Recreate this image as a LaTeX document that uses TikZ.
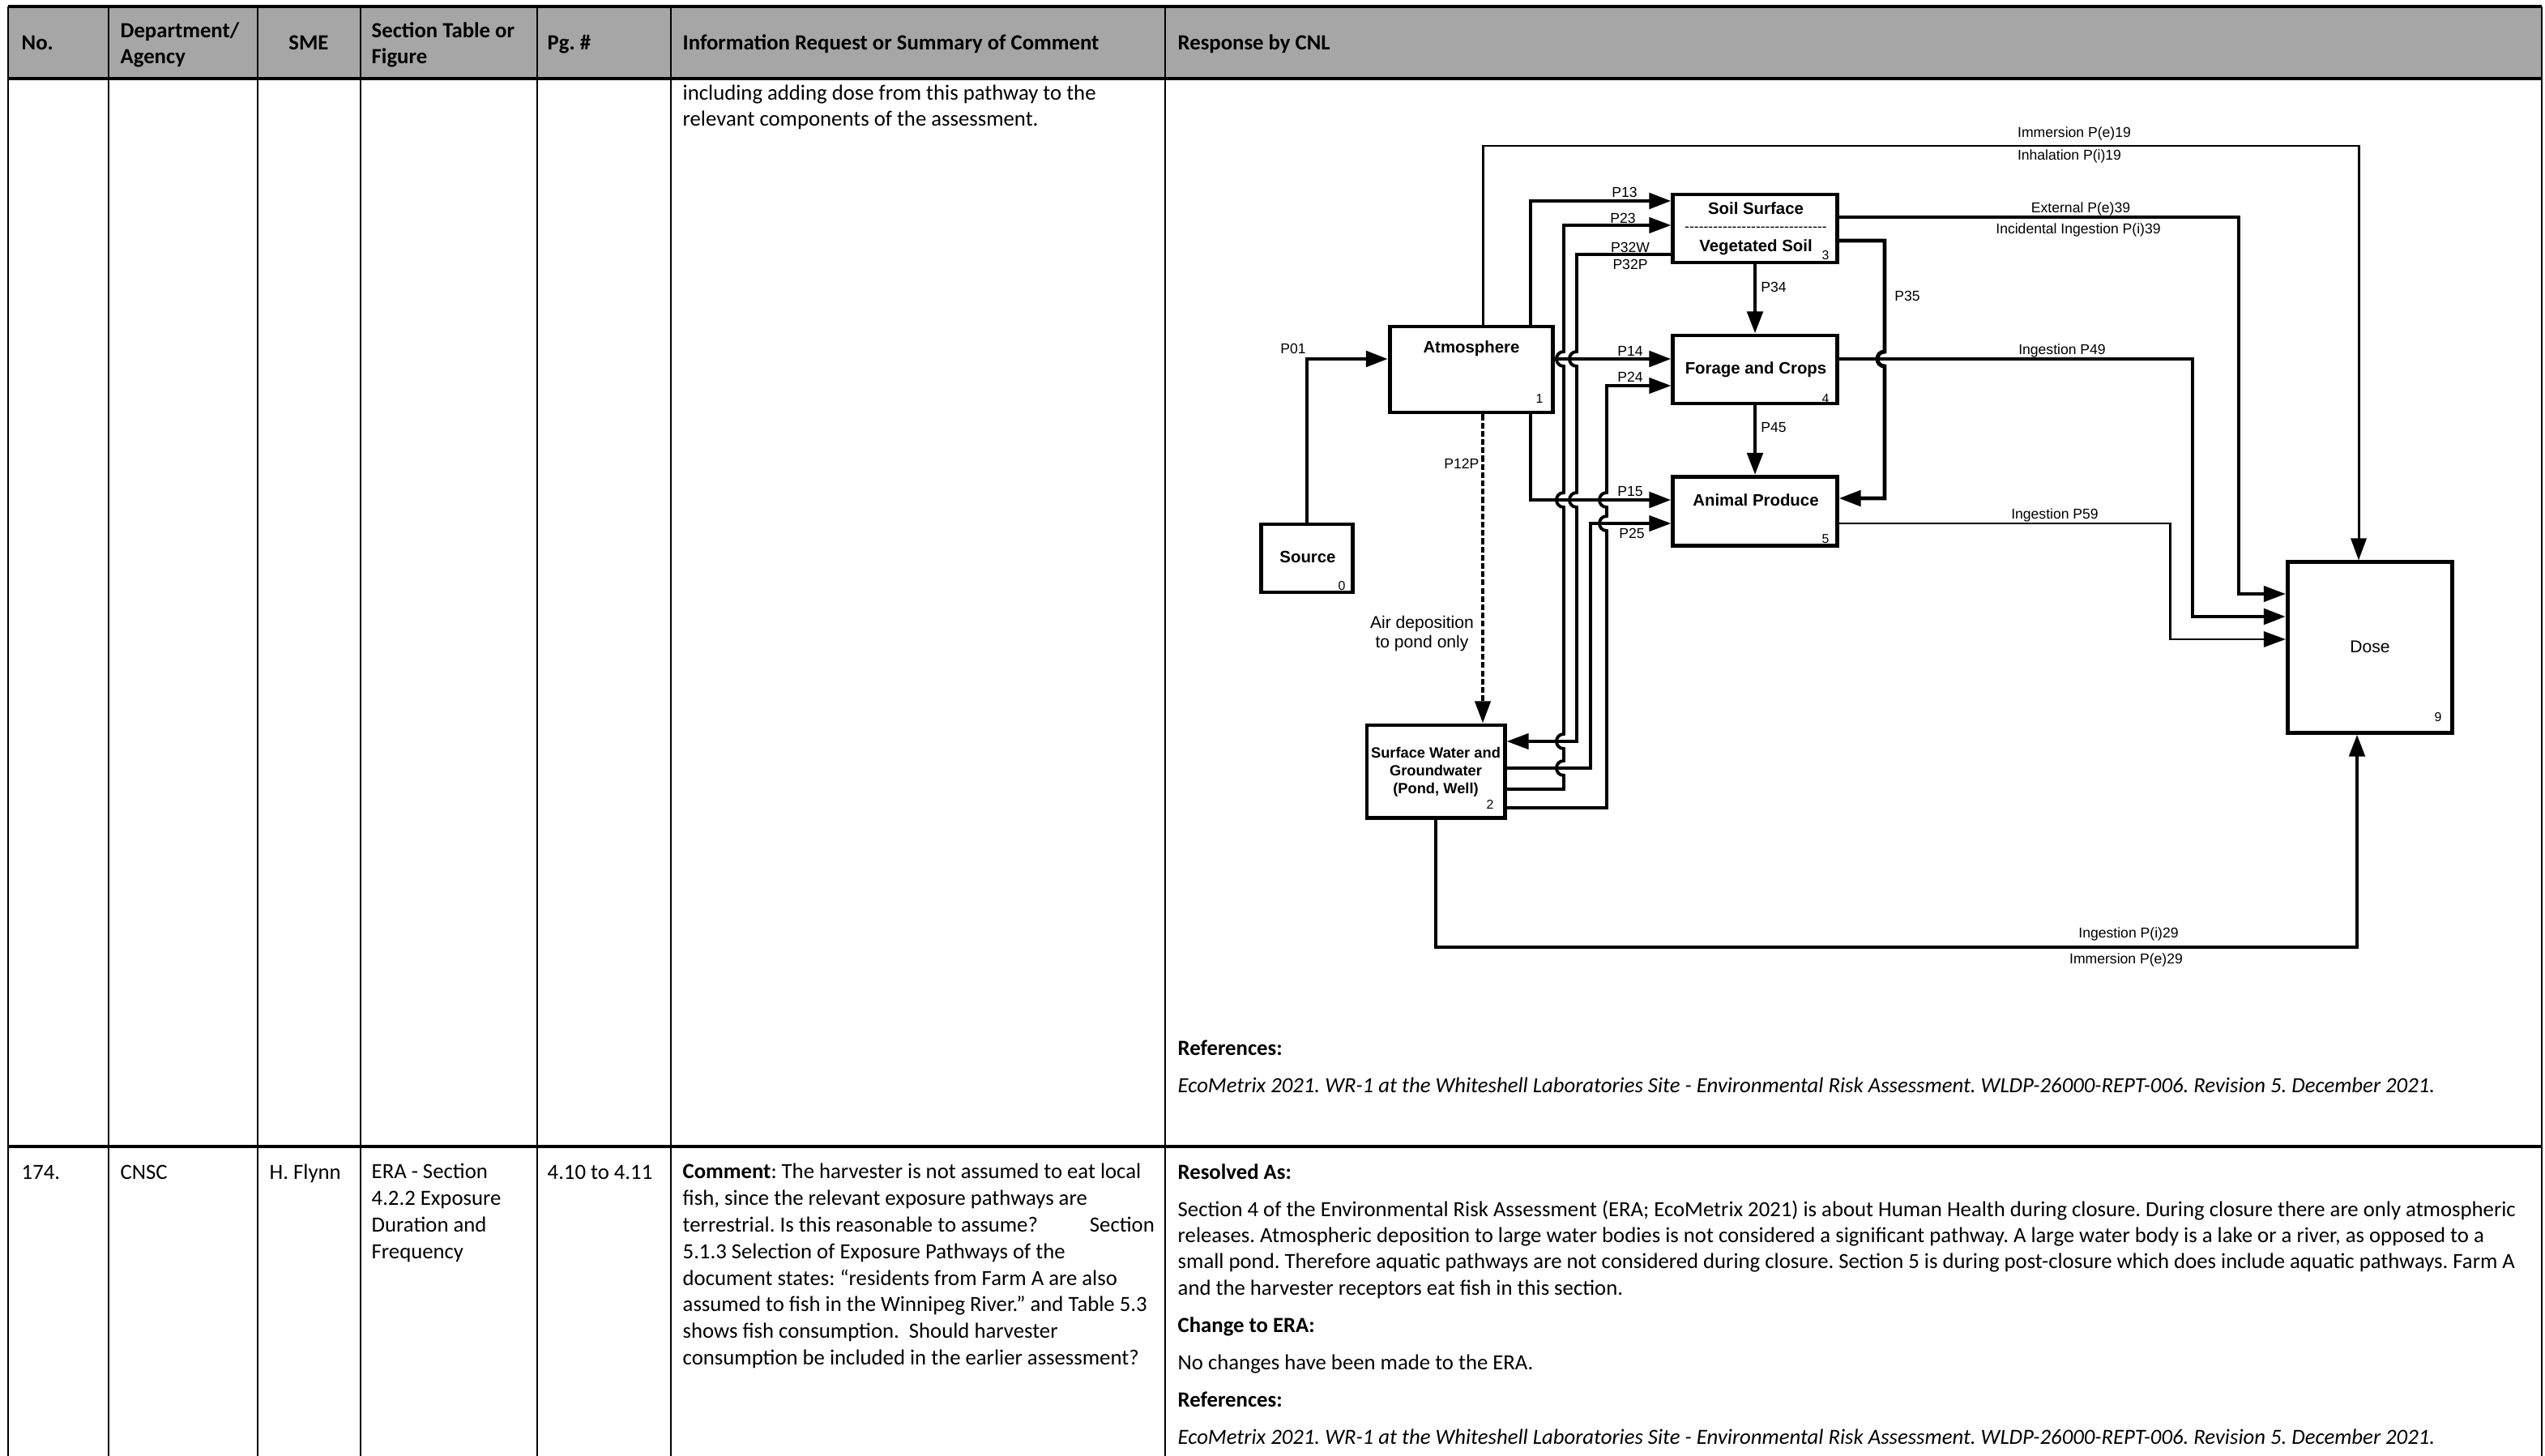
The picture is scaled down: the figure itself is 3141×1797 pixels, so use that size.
\documentclass[tikz,border=0pt]{standalone}
\usepackage{fontspec}
\setmainfont{Carlito}
\newfontfamily\diagfont{Liberation Sans}
\usepackage{tikz}
\usetikzlibrary{arrows.meta,calc}
\definecolor{HeadGray}{HTML}{A6A6A6}
\frenchspacing

\begin{document}
\begin{tikzpicture}[x=0.01cm,y=-0.01cm,
  cell/.style={font=\fontsize{7.6}{9.3}\selectfont,anchor=base west,inner sep=0},
  cellb/.style={cell,font=\fontsize{7.6}{9.3}\selectfont\bfseries},
  celli/.style={cell,font=\fontsize{7.6}{9.3}\selectfont\itshape},
  box/.style={draw,line width=1.4pt,inner sep=0},
  boxlbl/.style={font=\diagfont\fontsize{5.8}{7}\selectfont\bfseries,inner sep=0},
  boxno/.style={font=\diagfont\fontsize{4.5}{5}\selectfont,inner sep=0},
  plbl/.style={font=\diagfont\fontsize{5}{6}\selectfont,inner sep=0},
  tip/.style={-{Triangle[length=0.27cm,width=0.19cm]}},
  pathA/.style={line width=1.4pt,tip},
  pathB/.style={line width=1.1pt,tip},
  pathC/.style={line width=0.85pt,tip},
  hop/.style={to path={.. controls ($(\tikztostart)+(-12,0)$) and ($(\tikztotarget)+(-12,0)$) .. (\tikztotarget)}}]
  \useasboundingbox (0,0) rectangle (3141,1797);

  % Table
  \fill[HeadGray] (10,8) rectangle (3137,97);
  \foreach \x in {10,134,318,445,663,828,1438,3137}
    \draw[line width=0.5pt] (\x,8) -- (\x,1797);
  \foreach \y in {8,97,1415}
    \draw[line width=1.1pt] (10,\y) -- (3137,\y);

  % Header
  \node[cellb] (h-no) at (26,62) {No.};
  \node[cellb] (h-dep1) at (148,47) {Department/};
  \node[cellb] (h-dep2) at (148,79) {Agency};
  \node[cellb,anchor=base] (h-sme) at (381,62) {SME};
  \node[cellb] (h-sec1) at (458,47) {Section Table or};
  \node[cellb] (h-sec2) at (458,79) {Figure};
  \node[cellb] (h-pg) at (675,62) {Pg. \#};
  \node[cellb] (h-info) at (842,62) {Information Request or Summary of Comment};
  \node[cellb] (h-resp) at (1453,62) {Response by CNL};

  % Previous row
  \node[cell] (prev1) at (842,124) {including adding dose from this pathway to the};
  \node[cell] (prev2) at (842,156) {relevant components of the assessment.};
  \node[cellb] (prev-ref) at (1453,1302) {References:};
  \node[celli] (prev-reft) at (1453,1348) {EcoMetrix 2021. WR-1 at the Whiteshell Laboratories Site - Environmental Risk Assessment. WLDP-26000-REPT-006. Revision 5. December 2021.};

  % Row 174
  \node[cell] (n174) at (26,1455) {174.};
  \node[cell] (dep174) at (148,1455) {CNSC};
  \node[cell] (sme174) at (332,1455) {H. Flynn};
  \foreach \ln [count=\i] in {{ERA - Section},{4.2.2 Exposure},{Duration and},{Frequency}}
    \node[cell] (sec174-\i) at (458,1422+32.8*\i) {\ln};
  \node[cell] (pg174) at (675,1455) {4.10 to 4.11};
  \foreach \ln [count=\i] in {{\textbf{Comment}: The harvester is not assumed to eat local},
      {fish, since the relevant exposure pathways are},
      {terrestrial. Is this reasonable to assume?\hspace{0.64cm}Section},
      {5.1.3 Selection of Exposure Pathways of the},
      {document states: “residents from Farm A are also},
      {assumed to fish in the Winnipeg River.” and Table 5.3},
      {shows fish consumption.\ \ Should harvester},
      {consumption be included in the earlier assessment?}}
    \node[cell] (cmt174-\i) at (842,1422+32.8*\i) {\ln};
  \node[cellb] (res-head) at (1453,1455) {Resolved As:};
  \foreach \ln [count=\i] in {{Section 4 of the Environmental Risk Assessment (ERA; EcoMetrix 2021) is about Human Health during closure. During closure there are only atmospheric},
      {releases. Atmospheric deposition to large water bodies is not considered a significant pathway. A large water body is a lake or a river, as opposed to a},
      {small pond. Therefore aquatic pathways are not considered during closure. Section 5 is during post-closure which does include aquatic pathways. Farm A},
      {and the harvester receptors eat fish in this section.}}
    \node[cell] (res-\i) at (1453,1469+32.3*\i) {\ln};
  \node[cellb] (chg-head) at (1453,1644) {Change to ERA:};
  \node[cell] (chg-txt) at (1453,1690) {No changes have been made to the ERA.};
  \node[cellb] (ref-head) at (1453,1736) {References:};
  \node[celli] (ref-txt) at (1453,1782) {EcoMetrix 2021. WR-1 at the Whiteshell Laboratories Site - Environmental Risk Assessment. WLDP-26000-REPT-006. Revision 5. December 2021.};

  % Compartments
  \node[box,minimum width=1.13cm,minimum height=0.84cm] (src) at (1613,689) {};
  \node[box,minimum width=2.01cm,minimum height=1.06cm] (atm) at (1816,456) {};
  \node[box,minimum width=2.02cm,minimum height=0.84cm] (soil) at (2166,282) {};
  \node[box,minimum width=2.02cm,minimum height=0.84cm] (forage) at (2166,456) {};
  \node[box,minimum width=2.02cm,minimum height=0.85cm] (animal) at (2166,631) {};
  \node[box,minimum width=1.70cm,minimum height=1.14cm] (sw) at (1772,952) {};
  \node[box,minimum width=2.03cm,minimum height=2.10cm] (dose) at (2925,799) {};

  \node[boxlbl] (src-t) at (1614,687) {Source};
  \node[boxno] (src-n) at (1656,723) {0};
  \node[boxlbl] (atm-t) at (1816,430) {Atmosphere};
  \node[boxno] (atm-n) at (1900,492) {1};
  \node[boxlbl] (soil-t1) at (2167,257) {Soil Surface};
  \node[plbl] (soil-d) at (2167,283) {------------------------------};
  \node[boxlbl] (soil-t2) at (2167,305) {Vegetated Soil};
  \node[boxno] (soil-n) at (2253,315) {3};
  \node[boxlbl] (forage-t) at (2167,456) {Forage and Crops};
  \node[boxno] (forage-n) at (2253,492) {4};
  \node[boxlbl] (animal-t) at (2167,617) {Animal Produce};
  \node[boxno] (animal-n) at (2253,665) {5};
  \node[boxlbl,font=\diagfont\fontsize{5.2}{6.2}\selectfont\bfseries,align=center] (sw-t) at (1772,953) {Surface Water and\\Groundwater\\(Pond, Well)};
  \node[boxno] (sw-n) at (1839,993) {2};
  \node[plbl,font=\diagfont\fontsize{6}{7}\selectfont] (dose-t) at (2925,798) {Dose};
  \node[boxno] (dose-n) at (3009,885) {9};

  % Pathways
  \draw[pathA] (src.north) |- (atm.west |- 0,443);
  \draw[pathA] (atm.north -| 1889,0) |- (soil.west |- 0,248);
  \draw[pathA] (atm.east |- 0,443) -- (forage.west |- 0,443);
  \draw[pathA] (atm.south -| 1889,0) |- (animal.west |- 0,617);
  \draw[pathB] (sw.east |- 0,974) -- (1930,974) -- (1930,957) to[hop] (1930,939) -- (1930,924) to[hop] (1930,906)
    -- (1930,626) to[hop] (1930,608) -- (1930,452) to[hop] (1930,434) |- (soil.west |- 0,278);
  \draw[pathB] (soil.west |- 0,314) -| (1946,434) to[hop] (1946,452) -- (1946,608) to[hop] (1946,626) |- (sw.east |- 0,915);
  \draw[pathB] (sw.east |- 0,948) -| (1963,646) -- (animal.west |- 0,646);
  \draw[pathB] (sw.east |- 0,997) -| (1983,655) to[hop] (1983,637) -- (1983,626) to[hop] (1983,608) |- (forage.west |- 0,476);
  \draw[pathB,dash pattern=on 2pt off 0.9pt] (atm.south -| 1830,0) -- (sw.north -| 1830,0);
  \draw[pathA] (soil.south) -- (forage.north);
  \draw[pathA] (forage.south) -- (animal.north);
  \draw[pathA] (soil.east |- 0,297) -| (2326,434) to[hop] (2326,452) |- (animal.east |- 0,615);
  \draw[pathC] (atm.north -| 1830,0) |- (2911,180) -- (dose.north -| 2911,0);
  \draw[pathB] (soil.east |- 0,268) -- (2763,268) |- (dose.west |- 0,733);
  \draw[pathA] (forage.east |- 0,443) -- (2706,443) |- (dose.west |- 0,761);
  \draw[pathC] (animal.east |- 0,646) -- (2678,646) |- (dose.west |- 0,789);
  \draw[pathA] (sw.south) |- (2909,1169) -- (dose.south -| 2909,0);

  % Pathway labels
  \node[plbl] (l01) at (1596,430) {P01};
  \node[plbl] (l13) at (2005,237) {P13};
  \node[plbl] (l23) at (2003,269) {P23};
  \node[plbl] (l32w) at (2012,305) {P32W};
  \node[plbl] (l32p) at (2012,326) {P32P};
  \node[plbl] (l14) at (2012,433) {P14};
  \node[plbl] (l24) at (2012,465) {P24};
  \node[plbl] (l15) at (2012,607) {P15};
  \node[plbl] (l25) at (2014,658) {P25};
  \node[plbl] (l34) at (2189,354) {P34};
  \node[plbl] (l45) at (2189,528) {P45};
  \node[plbl] (l35) at (2354,365) {P35};
  \node[plbl,anchor=east] (l12p) at (1826,572) {P12P};
  \node[plbl,font=\diagfont\fontsize{6}{7}\selectfont,align=center] (l12n) at (1755,782) {Air deposition\\to pond only};
  \node[plbl] (l19a) at (2560,165) {Immersion P(e)19};
  \node[plbl] (l19b) at (2554,193) {Inhalation P(i)19};
  \node[plbl] (l39a) at (2568,258) {External P(e)39};
  \node[plbl] (l39b) at (2565,284) {Incidental Ingestion P(i)39};
  \node[plbl] (l49) at (2545,433) {Ingestion P49};
  \node[plbl] (l59) at (2536,636) {Ingestion P59};
  \node[plbl] (l29a) at (2627,1153) {Ingestion P(i)29};
  \node[plbl] (l29b) at (2624,1185) {Immersion P(e)29};
\end{tikzpicture}
\end{document}
